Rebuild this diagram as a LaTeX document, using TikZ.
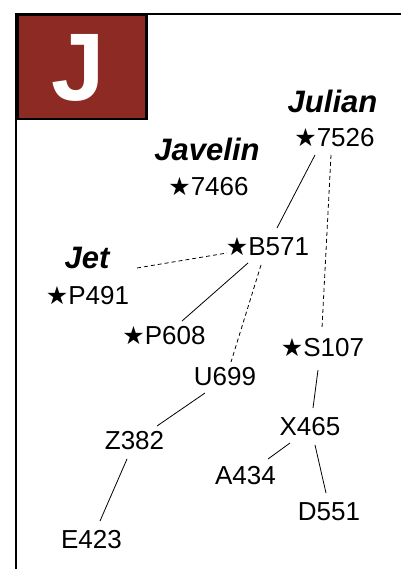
\documentclass[tikz,border=0pt]{standalone}
\usepackage{fontspec}
\setmainfont{Liberation Sans}
\newfontfamily\symf{DejaVu Sans}
\usetikzlibrary{calc}
\definecolor{jred}{HTML}{8E2A24}
\tikzset{
  lbl/.style={inner sep=0pt, font=\fontsize{26}{26}\selectfont, text height=18.6pt, text depth=0pt},
  ttl/.style={inner sep=0pt, font=\fontsize{31}{31}\selectfont\bfseries\itshape, anchor=base},
  edge/.style={line width=0.8pt},
  dedge/.style={line width=0.8pt, dash pattern=on 4pt off 3pt},
}
\newcommand{\st}{{\symf\fontsize{25}{25}\selectfont ★}}
\begin{document}
\begin{tikzpicture}[x=1pt,y=-1pt]
\useasboundingbox (0,0) rectangle (401,569);
% frame
\draw[line width=1.5pt] (16.3,14) -- (401,14);
\draw[line width=2.2pt] (16.3,569) -- (16.3,13);
\node[draw, line width=2.7pt, fill=jred, minimum width=129pt, minimum height=104.1pt, inner sep=0pt, anchor=north west] (box) at (16.3,13.7) {};
\node[anchor=base, text=white, inner sep=0pt, font=\fontsize{96}{96}\selectfont\bfseries] (jl) at (78,101) {J};
% titles
\node[ttl] (julian) at (332.5,113) {Julian};
\node[ttl] (javelin) at (207,161) {Javelin};
\node[ttl] (jet) at (87,268.5) {Jet};
% labels
\node[lbl] (n7526) at (334.5,137.5) {\st7526};
\node[lbl] (n7466) at (208.5,186.5) {\st7466};
\node[lbl] (b571) at (267.5,246.5) {\st B571};
\node[lbl] (p491) at (87.5,295) {\st P491};
\node[lbl] (p608) at (164,335.5) {\st P608};
\node[lbl] (s107) at (322.5,347.5) {\st S107};
\node[lbl] (u699) at (225,376.5) {U699};
\node[lbl] (x465) at (310,426) {X465};
\node[lbl] (z382) at (134.5,440.5) {Z382};
\node[lbl] (a434) at (245.5,475) {A434};
\node[lbl] (d551) at (329,511.5) {D551};
\node[lbl] (e423) at (91.5,539.5) {E423};
% connectors
\draw[edge] ($(n7526.center)+(-19.5,17.5)$) -- ($(b571.center)+(9.5,-18.5)$);
\draw[dedge] ($(n7526.center)+(-3.5,17.5)$) -- ($(s107.center)+(-0.5,-19.5)$);
\draw[dedge] ($(jet.base)+(50,-0.5)$) -- ($(b571.center)+(-40.5,6.5)$);
\draw[edge] ($(b571.center)+(-19.5,16.5)$) -- ($(p608.center)+(18,-14.5)$);
\draw[dedge] ($(b571.center)+(-6.5,18.5)$) -- ($(u699.center)+(6,-14.5)$);
\draw[edge] ($(u699.center)+(-20,16.5)$) -- ($(z382.center)+(22.5,-14.5)$);
\draw[edge] ($(z382.center)+(-7.5,18.5)$) -- ($(e423.center)+(8.5,-18.5)$);
\draw[edge] ($(s107.center)+(-4.5,22.5)$) -- ($(x465.center)+(3,-18)$);
\draw[edge] ($(x465.center)+(-20,17)$) -- ($(a434.center)+(22.5,-16)$);
\draw[edge] ($(x465.center)+(5,19)$) -- ($(d551.center)+(-3,-18.5)$);
\end{tikzpicture}
\end{document}
